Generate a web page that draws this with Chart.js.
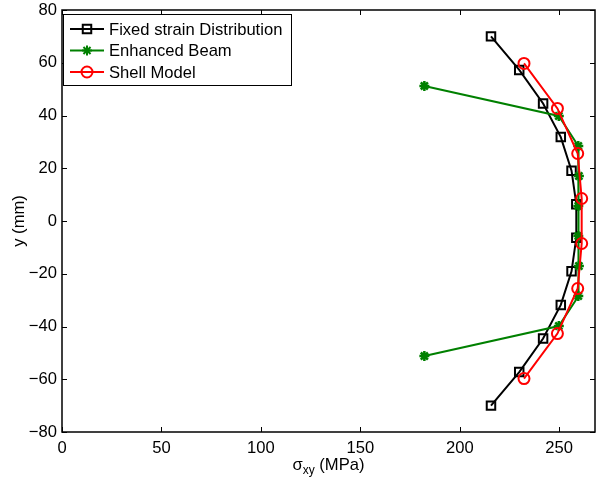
<!DOCTYPE html>
<html>
<head>
<meta charset="utf-8">
<script src="https://cdn.jsdelivr.net/npm/chart.js@4/dist/chart.umd.min.js"></script>
<style>
  html, body { margin: 0; padding: 0; background: #fff; }
  #grafico { display: block; }
</style>
</head>
<body>
<canvas id="grafico" width="596" height="484"></canvas>
<script>
'use strict'

// Distribucion de tension cortante sobre la altura de la seccion
const yFijo    = [70, 57.27, 44.55, 31.82, 19.09, 6.36, -6.36, -19.09, -31.82, -44.55, -57.27, -70]
const xFijo    = [215.7, 229.9, 241.9, 250.8, 256.2, 258.6, 258.6, 256.2, 250.8, 241.9, 229.9, 215.7]

const yViga    = [51.2, 39.82, 28.44, 17.07, 5.69, -5.69, -17.07, -28.44, -39.82, -51.2]
const xViga    = [182.2, 249.8, 259.6, 259.9, 259.6, 259.6, 259.9, 259.6, 249.8, 182.2]

const yLamina  = [59.73, 42.67, 25.6, 8.53, -8.53, -25.6, -42.67, -59.73]
const xLamina  = [232.3, 249.1, 259.3, 261.3, 261.3, 259.3, 249.1, 232.3]

const nombres  = ['Fixed strain Distribution', 'Enhanced Beam', 'Shell Model']
const ticksX   = [0, 50, 100, 150, 200, 250]
const ticksY   = [-80, -60, -40, -20, 0, 20, 40, 60, 80]

const fuente = '"Liberation Sans", Arial, Helvetica, sans-serif'

const puntos = (xs, ys) => xs.map((x, i) => ({ x: x, y: ys[i] }))

// marco, marcas interiores, leyenda y titulos de ejes
const marco = {
  id: 'marco',
  afterDraw(chart) {
    const c = chart.ctx
    const a = chart.chartArea
    const sx = chart.scales.x
    const sy = chart.scales.y
    c.save()
    c.strokeStyle = '#000'
    c.lineWidth = 1
    c.beginPath()
    ticksX.forEach(v => {
      const p = Math.round(sx.getPixelForValue(v)) + 0.5
      c.moveTo(p, a.bottom); c.lineTo(p, a.bottom - 5)
      c.moveTo(p, a.top); c.lineTo(p, a.top + 5)
    })
    ticksY.forEach(v => {
      const p = Math.round(sy.getPixelForValue(v)) + 0.5
      c.moveTo(a.left, p); c.lineTo(a.left + 5, p)
      c.moveTo(a.right, p); c.lineTo(a.right - 5, p)
    })
    c.stroke()
    c.lineWidth = 1.5
    c.strokeRect(a.left, a.top, a.right - a.left, a.bottom - a.top)

    // leyenda
    const lx = a.left + 1, ly = 14, lw = 228, lh = 71
    c.fillStyle = '#fff'
    c.fillRect(lx, ly, lw, lh)
    c.lineWidth = 1
    c.strokeRect(lx + 0.5, ly + 0.5, lw, lh)
    c.font = '16.6px ' + fuente
    c.textBaseline = 'middle'
    c.textAlign = 'left'
    chart.data.datasets.forEach((ds, i) => {
      const yy = 29 + i * 21.5
      c.strokeStyle = ds.borderColor
      c.lineWidth = 2
      c.beginPath(); c.moveTo(70, yy); c.lineTo(104, yy); c.stroke()
      c.fillStyle = ds.backgroundColor
      Chart.helpers.drawPoint(c, {
        pointStyle: ds.pointStyle, radius: ds.pointRadius, rotation: 0,
        borderWidth: ds.pointBorderWidth
      }, 87, yy)
      c.fillStyle = '#000'
      c.fillText(ds.label, 109, yy + 1)
    })

    // titulo del eje x con subindice
    c.fillStyle = '#000'
    c.textBaseline = 'alphabetic'
    const cx = (a.left + a.right) / 2
    const parte1 = '\u03C3', sub = 'xy', parte2 = ' (MPa)'
    c.font = '16.6px ' + fuente
    const w1 = c.measureText(parte1).width
    const w3 = c.measureText(parte2).width
    c.font = '12px ' + fuente
    const w2 = c.measureText(sub).width
    let x0 = cx - (w1 + w2 + w3) / 2
    c.font = '16.6px ' + fuente
    c.fillText(parte1, x0, 470)
    c.font = '12px ' + fuente
    c.fillText(sub, x0 + w1, 474)
    c.font = '16.6px ' + fuente
    c.fillText(parte2, x0 + w1 + w2, 470)

    // titulo del eje y
    c.translate(19, (a.top + a.bottom) / 2)
    c.rotate(-Math.PI / 2)
    c.textAlign = 'center'
    c.textBaseline = 'middle'
    c.fillText('y (mm)', 0, 0)
    c.restore()
  }
}

new Chart(document.getElementById('grafico'), {
  type: 'scatter',
  data: {
    datasets: [{
      label: nombres[0],
      data: puntos(xFijo, yFijo),
      showLine: true,
      borderColor: '#000',
      backgroundColor: 'rgba(0,0,0,0)',
      borderWidth: 2,
      pointStyle: 'rect',
      pointRadius: 6,
      pointBorderWidth: 2,
      order: 3
    }, {
      label: nombres[1],
      data: puntos(xViga, yViga),
      showLine: true,
      borderColor: 'rgb(0,128,0)',
      backgroundColor: 'rgb(0,128,0)',
      borderWidth: 2,
      pointStyle: 'star',
      pointRadius: 5,
      pointBorderWidth: 2.5,
      order: 2
    }, {
      label: nombres[2],
      data: puntos(xLamina, yLamina),
      showLine: true,
      borderColor: 'rgb(255,0,0)',
      backgroundColor: 'rgba(0,0,0,0)',
      borderWidth: 2,
      pointStyle: 'circle',
      pointRadius: 5.5,
      pointBorderWidth: 2,
      order: 1
    }]
  },
  options: {
    responsive: false,
    animation: false,
    devicePixelRatio: 1,
    layout: {
      autoPadding: false,
      padding: { top: 10, right: 1, left: 0, bottom: 0 }
    },
    plugins: {
      legend: { display: false },
      tooltip: { enabled: false }
    },
    scales: {
      x: {
        type: 'linear',
        min: 0,
        max: 268,
        grid: { display: false, drawTicks: false },
        border: { display: false },
        ticks: {
          stepSize: 50,
          includeBounds: false,
          padding: 6,
          color: '#000',
          font: { family: fuente, size: 16.6 },
          maxRotation: 0
        },
        afterFit: s => {
          s.height = 52
          s.paddingLeft = 0
          s.paddingRight = 0
        }
      },
      y: {
        type: 'linear',
        min: -80,
        max: 80,
        grid: { display: false, drawTicks: false },
        border: { display: false },
        ticks: {
          stepSize: 20,
          padding: 5,
          color: '#000',
          font: { family: fuente, size: 16.6 },
          callback: v => String(v).replace('-', '\u2212')
        },
        afterFit: s => {
          s.width = 62
          s.paddingTop = 0
          s.paddingBottom = 0
        }
      }
    }
  },
  plugins: [marco]
})
</script>
</body>
</html>
